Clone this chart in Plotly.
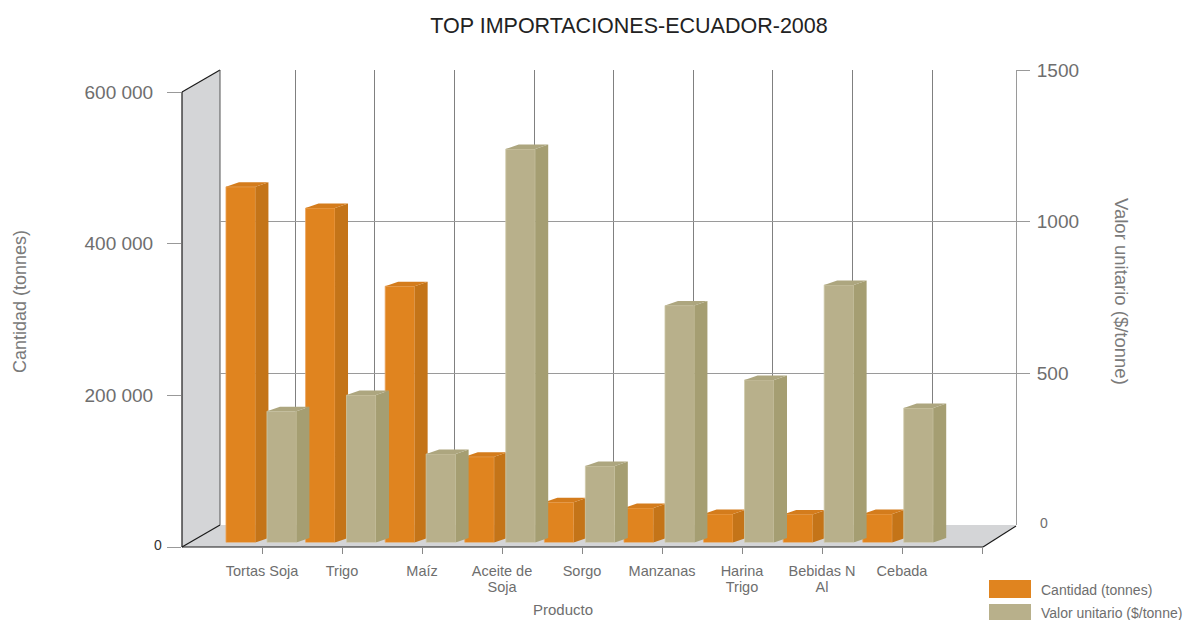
import plotly.graph_objects as go

# ---------------- data ----------------
categories = ["Tortas Soja", "Trigo", "Maíz", "Aceite de<br>Soja", "Sorgo",
              "Manzanas", "Harina<br>Trigo", "Bebidas N<br>Al", "Cebada"]
cantidad = [469000, 441000, 338000, 113000, 53000, 45500, 37500, 37000, 37500]   # tonnes
valor = [433, 486, 292, 1297, 252, 781, 536, 849, 443]                           # $/tonne

left_ticks = [0, 200000, 400000, 600000]
left_ticktext = ["", "200 000", "400 000", "600 000"]
right_ticks = [500, 1000, 1500]
right_ticktext = ["500", "1000", "1500"]

# ---------------- styling ----------------
W, H = 1197, 620
FONT = "Liberation Sans"
ORANGE, ORANGE_SIDE, ORANGE_TOP = "#E0841F", "#C47418", "#D47C1C"
TAN, TAN_SIDE, TAN_TOP = "#B8B08B", "#A59E72", "#ADA67F"
WALL = "#D4D5D7"
TXT = "#6E6E6E"


def fx(px):
    return px / W


def fy(py):
    return 1 - py / H


# category labels split into first / second line (second line sits close, like the original)
first_lines = [c.split("<br>")[0] for c in categories]
second_lines = [c.split("<br>")[1] if "<br>" in c else "" for c in categories]

# pseudo-3D depth of each bar (in axis units)
BAR_W = 0.37
OFF_O, OFF_T = -0.44, 0.075
DX = 13 / 79.6
DY_O = 4.5 * 600000 / 455
DY_T = 4.5 * 1500 / 455


def faces(vals, offset, dy):
    sx, sy, tx, ty = [], [], [], []
    for i, v in enumerate(vals):
        L = i + offset
        R = L + BAR_W
        sx += [R, R + DX, R + DX, R, R, None]
        sy += [0, dy, v + dy, v, 0, None]
        tx += [L, L + DX, R + DX, R, L, None]
        ty += [v, v + dy, v + dy, v, v, None]
    return sx, sy, tx, ty


fig = go.Figure()

# dummy traces to instantiate the back / front / label subplots
for xa, ya in [("x", "y"), ("x2", "y2"), ("x4", "y5")]:
    fig.add_trace(go.Scatter(x=[0], y=[0], xaxis=xa, yaxis=ya, mode="markers",
                             marker=dict(opacity=0), hoverinfo="skip", showlegend=False))

xs = list(range(len(categories)))

# orange series (Cantidad)
fig.add_trace(go.Bar(x=xs, y=cantidad, offset=OFF_O, width=BAR_W, xaxis="x3", yaxis="y3",
                     marker=dict(color=ORANGE, line=dict(color="#EBA45C", width=0.8)),
                     name="Cantidad (tonnes)", showlegend=False))
sx, sy, tx, ty = faces(cantidad, OFF_O, DY_O)
fig.add_trace(go.Scatter(x=sx, y=sy, xaxis="x3", yaxis="y3", fill="toself", mode="lines",
                         line=dict(width=0), fillcolor=ORANGE_SIDE, hoverinfo="skip", showlegend=False))
fig.add_trace(go.Scatter(x=tx, y=ty, xaxis="x3", yaxis="y3", fill="toself", mode="lines",
                         line=dict(width=0), fillcolor=ORANGE_TOP, hoverinfo="skip", showlegend=False))

# tan series (Valor unitario)
fig.add_trace(go.Bar(x=xs, y=valor, offset=OFF_T, width=BAR_W, xaxis="x3", yaxis="y4",
                     marker=dict(color=TAN, line=dict(color="#CFC9A9", width=0.8)),
                     name="Valor unitario ($/tonne)", showlegend=False))
sx, sy, tx, ty = faces(valor, OFF_T, DY_T)
fig.add_trace(go.Scatter(x=sx, y=sy, xaxis="x3", yaxis="y4", fill="toself", mode="lines",
                         line=dict(width=0), fillcolor=TAN_SIDE, hoverinfo="skip", showlegend=False))
fig.add_trace(go.Scatter(x=tx, y=ty, xaxis="x3", yaxis="y4", fill="toself", mode="lines",
                         line=dict(width=0), fillcolor=TAN_TOP, hoverinfo="skip", showlegend=False))

tickfont = dict(family=FONT, size=19, color=TXT)
catfont = dict(family=FONT, size=14.5, color=TXT)

fig.update_layout(
    width=W, height=H,
    margin=dict(l=0, r=0, t=0, b=0, autoexpand=False),
    paper_bgcolor="white",
    plot_bgcolor="rgba(0,0,0,0)",
    barmode="overlay",
    showlegend=False,
    title=dict(text="TOP IMPORTACIONES-ECUADOR-2008", x=fx(629), y=fy(25),
               xanchor="center", yanchor="middle",
               font=dict(family=FONT, size=21.5, color="#222222")),
    # back wall (right value axis + gridlines)
    xaxis=dict(domain=[fx(220), fx(1016)], range=[-0.947, 9.053], anchor="y",
               tickvals=list(range(9)), showticklabels=False, ticks="",
               showgrid=True, gridcolor="#808080", gridwidth=1, automargin=False,
               zeroline=False, showline=False, fixedrange=True),
    yaxis=dict(domain=[fy(525), fy(70)], range=[0, 1500], anchor="x", side="right",
               tickvals=right_ticks, ticktext=right_ticktext, ticks="outside",
               ticklen=13, tickcolor="#999999", tickfont=tickfont, ticklabelstandoff=3,
               showgrid=True, gridcolor="#9A9A9A", gridwidth=1, zeroline=False,
               automargin=False,
               showline=True, linecolor="#9A9A9A", linewidth=1, fixedrange=True),
    # front floor category axis (first line of labels)
    xaxis2=dict(domain=[fx(182), fx(982)], range=[-1, 9], anchor="y2",
                tickvals=list(range(10)), ticktext=first_lines + [""],
                ticks="outside", ticklen=6, tickcolor="#888888",
                tickfont=catfont, ticklabelstandoff=5,
                automargin=False,
                showgrid=False, zeroline=False, showline=False, fixedrange=True),
    # second line of category labels (axis placed lower)
    xaxis4=dict(domain=[fx(182), fx(982)], range=[-1, 9], anchor="y5",
                tickvals=list(range(9)), ticktext=second_lines,
                ticks="outside", ticklen=6, tickcolor="rgba(0,0,0,0)",
                tickfont=catfont, ticklabelstandoff=5,
                automargin=False,
                showgrid=False, zeroline=False, showline=False, fixedrange=True),
    yaxis5=dict(domain=[fy(563), fy(520)], range=[0, 1], anchor="x4",
                visible=False, fixedrange=True, automargin=False),
    # front left value axis
    yaxis2=dict(domain=[fy(547), fy(92)], range=[0, 600000], anchor="x2",
                tickvals=left_ticks, ticktext=left_ticktext, ticks="outside",
                ticklen=14, tickcolor="#999999", tickfont=tickfont, ticklabelstandoff=10,
                automargin=False,
                showgrid=False, zeroline=False, showline=False, fixedrange=True),
    # bar plane
    xaxis3=dict(domain=[fx(181.4), fx(977.4)], range=[-1, 9], anchor="y3",
                visible=False, fixedrange=True, automargin=False),
    yaxis3=dict(domain=[fy(542.5), fy(87.5)], range=[0, 600000], anchor="x3",
                visible=False, fixedrange=True, automargin=False),
    yaxis4=dict(domain=[fy(542.5), fy(87.5)], range=[0, 1500], anchor="x3",
                overlaying="y3", visible=False, fixedrange=True, automargin=False),
)

shapes = []
# left wall
shapes.append(dict(type="path", xref="paper", yref="paper", layer="below",
                   path=f"M {fx(182)},{fy(92)} L {fx(220)},{fy(70)} L {fx(220)},{fy(525)} L {fx(182)},{fy(547)} Z",
                   fillcolor=WALL, line=dict(width=0)))
# floor
shapes.append(dict(type="path", xref="paper", yref="paper", layer="below",
                   path=f"M {fx(182)},{fy(547)} L {fx(220)},{fy(525)} L {fx(1016)},{fy(525)} L {fx(983)},{fy(547)} Z",
                   fillcolor=WALL, line=dict(width=0)))
edge = dict(color="#1A1A1A", width=1.2)
for (x0, y0, x1, y1) in [(182, 92, 220, 70), (182, 92, 182, 547), (182, 547, 983, 547),
                         (983, 547, 1016, 526), (182, 547, 220, 525)]:
    shapes.append(dict(type="line", xref="paper", yref="paper", layer="below",
                       x0=fx(x0), y0=fy(y0), x1=fx(x1), y1=fy(y1), line=edge))
shapes.append(dict(type="line", xref="paper", yref="paper", layer="below",
                   x0=fx(220), y0=fy(70), x1=fx(220), y1=fy(525), line=dict(color="#555555", width=1)))
# legend swatches
shapes.append(dict(type="rect", xref="paper", yref="paper", x0=fx(989), x1=fx(1031),
                   y0=fy(598), y1=fy(580), fillcolor=ORANGE, line=dict(width=0)))
shapes.append(dict(type="rect", xref="paper", yref="paper", x0=fx(989), x1=fx(1031),
                   y0=fy(621), y1=fy(604), fillcolor=TAN, line=dict(width=0)))


def ann(text, x, y, size, color=TXT, xanchor="center", angle=0):
    return dict(text=text, x=fx(x), y=fy(y), xref="paper", yref="paper",
                xanchor=xanchor, yanchor="middle", showarrow=False, textangle=angle,
                font=dict(family=FONT, size=size, color=color))


annotations = [
    ann("Cantidad (tonnes)", 20, 302, 18, "#7A7A7A", angle=-90),
    ann("Valor unitario ($/tonne)", 1122, 291, 18.5, "#7A7A7A", angle=90),
    ann("Producto", 563, 609, 15),
    ann("0", 164, 545, 14, "#333333", xanchor="right"),
    ann("0", 1038, 523, 14, TXT, xanchor="left"),
    ann("Cantidad (tonnes)", 1039, 590, 14, xanchor="left"),
    ann("Valor unitario ($/tonne)", 1039, 613, 14, xanchor="left"),
]

fig.update_layout(shapes=shapes, annotations=annotations)
fig.write_html("out.html", config={"displayModeBar": False},
               post_script="document.body.style.margin='0px';document.body.style.overflow='hidden';")
